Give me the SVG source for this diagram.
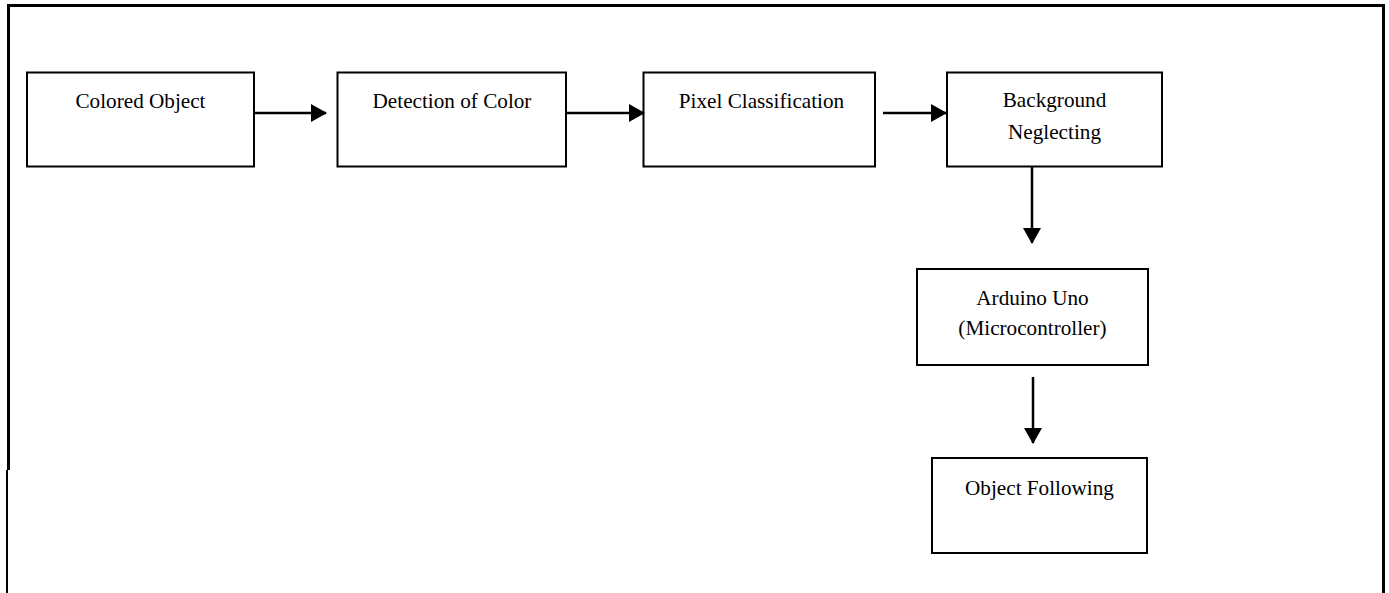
<svg xmlns="http://www.w3.org/2000/svg" width="1389" height="593" viewBox="0 0 1389 593">
<style>
.box{fill:#fff;stroke:#000;stroke-width:2}
.t{font-family:"Liberation Serif","Times New Roman",serif;font-size:21.2px;fill:#000;text-anchor:middle}
.c{stroke:#000;stroke-width:2.5;fill:none}
.frame{stroke:#000;fill:none}
</style>
<defs>
<marker id="ah" markerWidth="18" markerHeight="18" viewBox="0 0 16 18" refX="15" refY="9" orient="auto" markerUnits="userSpaceOnUse">
<path d="M0,0 L16,9 L0,18 Z" fill="#000"/>
</marker>
</defs>
<rect width="1389" height="593" fill="#fff"/>
<g id="frame">
<path class="frame" stroke-width="3" d="M8.5,470 V5.5 H1383.5 V593"/>
<path class="frame" stroke-width="2" d="M7,470 V593"/>
</g>
<g id="n1"><rect class="box" x="27" y="72.5" width="227" height="94"/><text class="t" x="140.5" y="108">Colored Object</text></g>
<g id="n2"><rect class="box" x="337.5" y="72.5" width="228.5" height="94"/><text class="t" x="452" y="108">Detection of Color</text></g>
<g id="n3"><rect class="box" x="643.5" y="72.5" width="231.5" height="94"/><text class="t" x="761.5" y="108">Pixel Classification</text></g>
<g id="n4"><rect class="box" x="947" y="72.5" width="215" height="94"/><text class="t" x="1054.5" y="107">Background</text><text class="t" x="1054.5" y="139">Neglecting</text></g>
<g id="n5"><rect class="box" x="917" y="269" width="231" height="96"/><text class="t" x="1032.5" y="305">Arduino Uno</text><text class="t" x="1032.5" y="335">(Microcontroller)</text></g>
<g id="n6"><rect class="box" x="932" y="458" width="215" height="95"/><text class="t" x="1039.5" y="495">Object Following</text></g>
<g id="connectors">
<line class="c" x1="253" y1="113" x2="326" y2="113" marker-end="url(#ah)"/>
<line class="c" x1="566" y1="113" x2="644" y2="113" marker-end="url(#ah)"/>
<line class="c" x1="883" y1="113" x2="946" y2="113" marker-end="url(#ah)"/>
<line class="c" x1="1032" y1="166" x2="1032" y2="243" marker-end="url(#ah)"/>
<line class="c" x1="1033" y1="377" x2="1033" y2="443" marker-end="url(#ah)"/>
</g>
</svg>
